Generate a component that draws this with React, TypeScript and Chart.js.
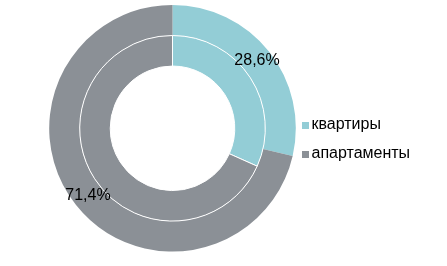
import React, { useEffect, useRef } from "react";
import { Chart, registerables } from "chart.js";

Chart.register(...registerables);

const categories = ["квартиры", "апартаменты"];
const outerValues = [28.6, 71.4];
const innerValues = [31.7, 68.3];
const colors = ["#93CDD6", "#8B9096"];

const FONT = '"Liberation Sans", Arial, sans-serif';

const sliceLabels = {
  id: "sliceLabels",
  afterDatasetsDraw(chart: any) {
    const ctx = chart.ctx;
    const meta = chart.getDatasetMeta(0);
    const data = chart.data.datasets[0].data as number[];
    ctx.save();
    ctx.font = `16px ${FONT}`;
    ctx.fillStyle = "#000000";
    ctx.textAlign = "center";
    ctx.textBaseline = "middle";
    meta.data.forEach((arc: any, i: number) => {
      const p = arc.tooltipPosition(false);
      ctx.fillText(data[i].toFixed(1).replace(".", ",") + "%", p.x, p.y);
    });
    ctx.restore();
  },
};

export default function App() {
  const ref = useRef<HTMLCanvasElement | null>(null);

  useEffect(() => {
    if (!ref.current) return;
    const chart = new Chart(ref.current, {
      type: "doughnut",
      data: {
        labels: categories,
        datasets: [
          {
            data: outerValues,
            backgroundColor: colors,
            borderWidth: 0,
            order: 1,
          },
          {
            data: innerValues,
            backgroundColor: colors,
            borderColor: "#FFFFFF",
            borderWidth: 1,
            order: 0,
          },
        ],
      },
      options: {
        responsive: false,
        animation: false,
        radius: 123.3,
        cutout: "50.5%",
        layout: { padding: { left: 49.2, right: 151.2, top: 5, bottom: 14.4 } },
        plugins: {
          legend: { display: false },
          tooltip: { enabled: false },
        },
      } as any,
      plugins: [sliceLabels],
    });
    return () => chart.destroy();
  }, []);

  const rowTops = [115.8, 145.2];

  return (
    <div style={{ position: "absolute", left: 0, top: 0, width: 447, height: 266, background: "#fff" }}>
      <canvas ref={ref} width={447} height={266} style={{ display: "block", width: 447, height: 266 }} />
      {categories.map((c, i) => (
        <div key={c}>
          <div
            style={{
              position: "absolute",
              left: 302,
              top: rowTops[i] + 6,
              width: 7,
              height: 7,
              background: colors[i],
            }}
          />
          <div
            style={{
              position: "absolute",
              left: 311.5,
              top: rowTops[i],
              fontFamily: FONT,
              fontSize: 16,
              lineHeight: "16px",
              color: "#000",
              whiteSpace: "nowrap",
            }}
          >
            {c}
          </div>
        </div>
      ))}
    </div>
  );
}
